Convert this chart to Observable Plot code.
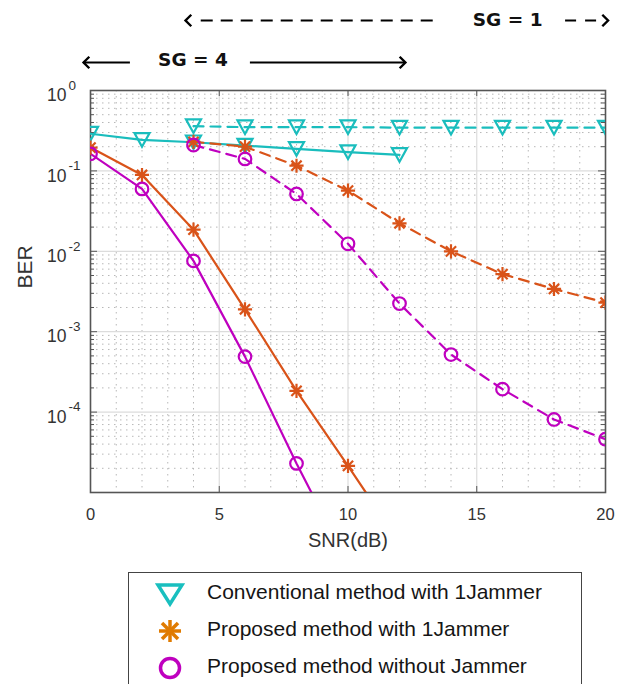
<!DOCTYPE html>
<html><head><meta charset="utf-8">
<script src="https://cdn.jsdelivr.net/npm/d3@7"></script>
<script src="https://cdn.jsdelivr.net/npm/@observablehq/plot@0.6"></script>
<style>
body{margin:0;background:#fff;font-family:"Liberation Sans",Arial,sans-serif;}
#wrap{position:relative;width:624px;height:684px;overflow:hidden;background:#fff}
#chart{position:absolute;left:0;top:0}
#legend{position:absolute;left:128px;top:572px;width:454px;height:140px;border:1.5px solid #444;box-sizing:border-box;background:#fff}
.row{position:absolute;left:0;width:100%;height:36px;}
.row svg{position:absolute;left:26px;top:2px}
.row span{position:absolute;left:78px;top:1px;font-size:21px;color:#151515;white-space:nowrap;line-height:28px}
</style></head><body>
<div id="wrap"><div id="chart"></div><div id="legend"></div></div>
<script>
// ---- data ----
const snrSG4 = [0, 2, 4, 6, 8, 10, 12];
const snrSG1 = [4, 6, 8, 10, 12, 14, 16, 18, 20];
const convSG4 = [0.29, 0.243, 0.227, 0.206, 0.188, 0.171, 0.158];
const convSG1 = [0.36, 0.35, 0.35, 0.35, 0.345, 0.345, 0.345, 0.345, 0.345];
const prop1jSG4 = [0.195, 0.089, 0.0186, 0.0019, 1.84e-4, 2.14e-5, 2.4e-6];
const prop1jSG1 = [0.23, 0.20, 0.116, 0.0568, 0.0223, 0.0100, 0.0052, 0.0034, 0.0023];
const propNoJSG4 = [0.163, 0.0597, 0.0076, 4.9e-4, 2.3e-5, 1.3e-6];
const propNoJSG1 = [0.21, 0.141, 0.0517, 0.0124, 0.00224, 5.2e-4, 1.93e-4, 8.1e-5, 4.6e-5];
const xTicks = [0, 5, 10, 15, 20];
const yTicks = [1, 0.1, 0.01, 0.001, 0.0001];
const yExps = ["0", "-1", "-2", "-3", "-4"];
const seriesNames = ["Conventional method with 1Jammer", "Proposed method with 1Jammer", "Proposed method without Jammer"];

const cCyan = "#1abdbd", cOrange = "#d95319", cMag = "#bf00bf";
const rows = (xs, ys) => ys.map((y, i) => ({x: xs[i], y}));

const triDown = {draw(ctx, size) {const s = Math.sqrt(size); const h = s * 0.45;
  ctx.moveTo(-s/2, -h); ctx.lineTo(s/2, -h); ctx.lineTo(0, h); ctx.closePath();}};
const star8 = {draw(ctx, size) {const a = Math.sqrt(size) / 2, b = a * 0.72;
  ctx.moveTo(-a, 0); ctx.lineTo(a, 0); ctx.moveTo(0, -a); ctx.lineTo(0, a);
  ctx.moveTo(-b, -b); ctx.lineTo(b, b); ctx.moveTo(-b, b); ctx.lineTo(b, -b);}};
const chevL = {draw(ctx, size) {const a = Math.sqrt(size) / 2;
  ctx.moveTo(a, -a); ctx.lineTo(0, 0); ctx.lineTo(a, a);}};
const chevR = {draw(ctx, size) {const a = Math.sqrt(size) / 2;
  ctx.moveTo(-a, -a); ctx.lineTo(0, 0); ctx.lineTo(-a, a);}};

const minorY = [];
for (let k = -5; k <= -1; k++) for (let m = 2; m <= 9; m++) minorY.push(m * Math.pow(10, k));
const minorX = d3.range(1, 20).filter(v => v % 5 !== 0);
const PW = 624 - 90 - 19, PH = 560 - 90 - 68;

const series = [
  {d: rows(snrSG4, convSG4), c: cCyan, sym: triDown, r: 8.5, dash: null},
  {d: rows(snrSG1, convSG1), c: cCyan, sym: triDown, r: 8.5, dash: "10,7"},
  {d: rows(snrSG4, prop1jSG4), c: cOrange, sym: star8, r: 8, dash: null},
  {d: rows(snrSG1, prop1jSG1), c: cOrange, sym: star8, r: 8, dash: "10,7"},
  {d: rows(snrSG4.slice(0, propNoJSG4.length), propNoJSG4), c: cMag, sym: "circle", r: 6.3, dash: null},
  {d: rows(snrSG1, propNoJSG1), c: cMag, sym: "circle", r: 6.3, dash: "10,7"}
];

const annFont = "'DejaVu Sans', sans-serif";
const marks = [
  Plot.ruleY(minorY, {stroke: "#b8b8b8", strokeDasharray: "1.5,4.5", strokeWidth: 1}),
  Plot.ruleX(minorX, {stroke: "#b8b8b8", strokeDasharray: "1.5,4.5", strokeWidth: 1}),
  Plot.ruleY(yTicks.slice(1), {stroke: "#dcdcdc", strokeWidth: 1.2}),
  Plot.ruleX(xTicks.slice(1, -1), {stroke: "#dcdcdc", strokeWidth: 1.2}),
  // inward ticks
  Plot.tickY(yTicks, {y: d => d, insetRight: PW - 7, stroke: "#555"}),
  Plot.tickY(yTicks, {y: d => d, insetLeft: PW - 7, stroke: "#555"}),
  Plot.tickY(minorY, {y: d => d, insetRight: PW - 4, stroke: "#555"}),
  Plot.tickY(minorY, {y: d => d, insetLeft: PW - 4, stroke: "#555"}),
  Plot.tickX(xTicks, {x: d => d, insetTop: PH - 6, stroke: "#555"}),
  Plot.tickX(xTicks, {x: d => d, insetBottom: PH - 6, stroke: "#555"}),
  Plot.frame({stroke: "#555", strokeWidth: 1.6}),
  Plot.axisX({ticks: xTicks, tickSize: 0, tickPadding: 16, fontSize: 16.5, fill: "#333", label: null}),
  Plot.text(yTicks, {y: d => d, frameAnchor: "left", text: () => "10", textAnchor: "end", dx: -24, dy: 5, fontSize: 17.5, fill: "#333"}),
  Plot.text(yTicks, {y: d => d, frameAnchor: "left", text: (d, i) => yExps[i], textAnchor: "start", dx: -22, dy: -5, fontSize: 13.5, fill: "#333"}),
  Plot.text(["SNR(dB)"], {frameAnchor: "bottom", dy: 54, fontSize: 20, fill: "#333"}),
  Plot.text(["BER"], {frameAnchor: "left", dx: -65, dy: -3, rotate: -90, fontSize: 21, fill: "#333"}),
  // SG annotations
  Plot.ruleY([1], {x1: 4.3, x2: 13.6, dy: -70, stroke: "#000", strokeWidth: 2, strokeDasharray: "12,8"}),
  Plot.ruleY([1], {x1: 18.45, x2: 20.0, dy: -70, stroke: "#000", strokeWidth: 2, strokeDasharray: "11,9"}),
  Plot.dot([1], {x: 3.69, y: d => d, dy: -70, symbol: chevL, r: 6.5, stroke: "#000", strokeWidth: 2.4, fill: "none"}),
  Plot.dot([1], {x: 20.1, y: d => d, dy: -70, symbol: chevR, r: 6.5, stroke: "#000", strokeWidth: 2.4, fill: "none"}),
  Plot.text([1], {x: 16.2, y: d => d, dy: -70, text: () => "SG = 1", fontSize: 18.5, fontWeight: "bold", fontFamily: annFont, fill: "#111"}),
  Plot.ruleY([1], {x1: -0.27, x2: 1.55, dy: -28, stroke: "#000", strokeWidth: 2}),
  Plot.ruleY([1], {x1: 6.21, x2: 12.2, dy: -28, stroke: "#000", strokeWidth: 2}),
  Plot.dot([1], {x: -0.27, y: d => d, dy: -28, symbol: chevL, r: 6.5, stroke: "#000", strokeWidth: 2.4, fill: "none"}),
  Plot.dot([1], {x: 12.23, y: d => d, dy: -28, symbol: chevR, r: 6.5, stroke: "#000", strokeWidth: 2.4, fill: "none"}),
  Plot.text([1], {x: 3.98, y: d => d, dy: -30, text: () => "SG = 4", fontSize: 18.5, fontWeight: "bold", fontFamily: annFont, fill: "#111"})
];
for (const s of series) {
  marks.push(Plot.line(s.d, {x: "x", y: "y", stroke: s.c, strokeWidth: 2.2, strokeDasharray: s.dash, clip: true}));
}
for (const s of series) {
  marks.push(Plot.dot(s.d, {x: "x", y: "y", symbol: s.sym, r: s.r, stroke: s.c, strokeWidth: 2.2, fill: "none", clip: true}));
}

const chart = Plot.plot({
  width: 624, height: 560,
  marginLeft: 90, marginRight: 19, marginTop: 90, marginBottom: 68,
  style: {fontFamily: "'Liberation Sans', Arial, sans-serif", background: "white", overflow: "visible"},
  x: {domain: [0, 20], axis: null},
  y: {type: "log", domain: [1e-5, 1], axis: null},
  marks
});
document.getElementById("chart").appendChild(chart);

// legend
const legSyms = [
  `<polygon points="-12,-9 12,-9 0,10" fill="none" stroke="#19bfbf" stroke-width="3.5" stroke-linejoin="miter"/>`,
  `<g stroke="#e07b00" stroke-width="3.5"><line x1="-11" y1="0" x2="11" y2="0"/><line x1="0" y1="-11" x2="0" y2="11"/><line x1="-8" y1="-8" x2="8" y2="8"/><line x1="-8" y1="8" x2="8" y2="-8"/></g>`,
  `<circle r="9.5" fill="none" stroke="#bf00bf" stroke-width="3.5"/>`
];
const leg = document.getElementById("legend");
seriesNames.forEach((name, i) => {
  const row = document.createElement("div");
  row.className = "row";
  row.style.top = (4 + i * 37) + "px";
  row.innerHTML = `<svg width="30" height="30" viewBox="-15 -15 30 30">${legSyms[i]}</svg><span>${name}</span>`;
  leg.appendChild(row);
});
</script>
</body></html>
